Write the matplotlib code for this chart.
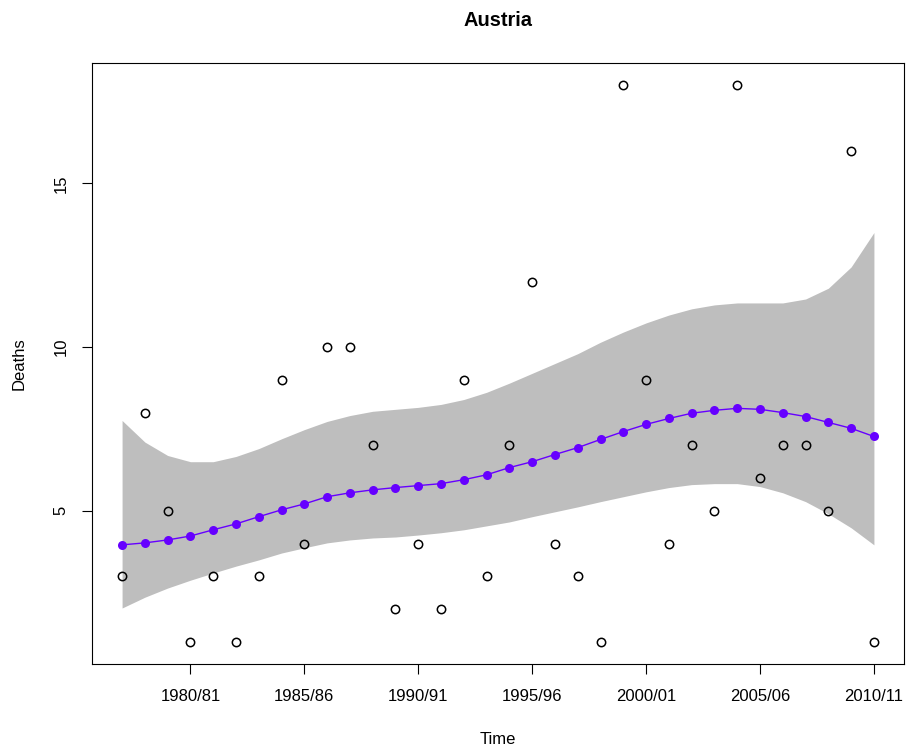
import matplotlib
matplotlib.use("Agg")
import matplotlib.pyplot as plt
import numpy as np

plt.rcParams['font.family'] = ['Liberation Sans', 'DejaVu Sans']

seasons = [f"{y}/{str(y+1)[-2:]}" for y in range(1977, 2011)]
deaths = [3, 8, 5, 1, 3, 1, 3, 9, 4, 10, 10, 7, 2, 4, 2, 9, 3, 7, 12, 4,
          3, 1, 18, 9, 4, 7, 5, 18, 6, 7, 7, 5, 16, 1]
fitted = [3.96, 4.02, 4.11, 4.23, 4.42, 4.60, 4.82, 5.03, 5.21, 5.43, 5.55,
          5.64, 5.71, 5.77, 5.83, 5.95, 6.10, 6.32, 6.50, 6.72, 6.93, 7.18,
          7.42, 7.64, 7.82, 7.98, 8.07, 8.13, 8.10, 8.00, 7.88, 7.70, 7.52, 7.27]
upper = [7.76, 7.10, 6.69, 6.50, 6.50, 6.66, 6.90, 7.20, 7.48, 7.73, 7.91,
         8.04, 8.10, 8.16, 8.25, 8.40, 8.62, 8.90, 9.20, 9.50, 9.80, 10.15,
         10.46, 10.74, 10.98, 11.17, 11.29, 11.35, 11.35, 11.35, 11.47, 11.80,
         12.45, 13.50]
lower = [2.03, 2.36, 2.64, 2.88, 3.10, 3.31, 3.50, 3.71, 3.87, 4.02, 4.11,
         4.17, 4.20, 4.26, 4.33, 4.42, 4.54, 4.66, 4.82, 4.97, 5.12, 5.28,
         5.43, 5.58, 5.71, 5.80, 5.83, 5.83, 5.74, 5.55, 5.28, 4.91, 4.48, 3.96]
tick_labels = ["1980/81", "1985/86", "1990/91", "1995/96", "2000/01", "2005/06", "2010/11"]
y_ticks = [5, 10, 15]

x = np.arange(len(seasons))
tick_pos = [seasons.index(t) for t in tick_labels]

W, H = 907, 749
fig = plt.figure(figsize=(W / 100, H / 100), dpi=100)
ax = fig.add_axes([92 / W, 1 - 664 / H, (904 - 92) / W, (664 - 63) / H])

ax.fill_between(x, lower, upper, color="#BEBEBE", linewidth=0, zorder=1)
ax.plot(x, fitted, color="#6600FF", linewidth=1, marker="o", markersize=6.5,
        markeredgewidth=0, zorder=3)
ax.plot(x, deaths, linestyle="none", marker="o", markersize=6,
        markerfacecolor="none", markeredgecolor="black", markeredgewidth=1.1, zorder=4)

n = len(x) - 1
ax.set_xlim(-0.04 * n, n * 1.04)
ymin, ymax = min(deaths), max(deaths)
r = ymax - ymin
ax.set_ylim(ymin - 0.04 * r, ymax + 0.04 * r)

ax.set_xticks(tick_pos)
ax.set_xticklabels(tick_labels, fontsize=12)
ax.set_yticks(y_ticks)
ax.set_yticklabels([str(v) for v in y_ticks], fontsize=12, rotation=90, va="center")
ax.tick_params(axis="x", length=7, width=0.8, pad=11)
ax.tick_params(axis="y", length=7, width=0.8, pad=10)

for s in ax.spines.values():
    s.set_linewidth(0.8)

cx = (92 + 904) / 2 / W
fig.text(cx, 1 - 740 / H, "Time", fontsize=12, ha="center", va="center")
fig.text(19 / W, 1 - ((63 + 664) / 2) / H, "Deaths", fontsize=12, ha="center",
         va="center", rotation=90)
fig.text(cx, 1 - 20 / H, "Austria", fontsize=14.4, fontweight="bold",
         ha="center", va="center")

fig.savefig("out.png", dpi=100)
